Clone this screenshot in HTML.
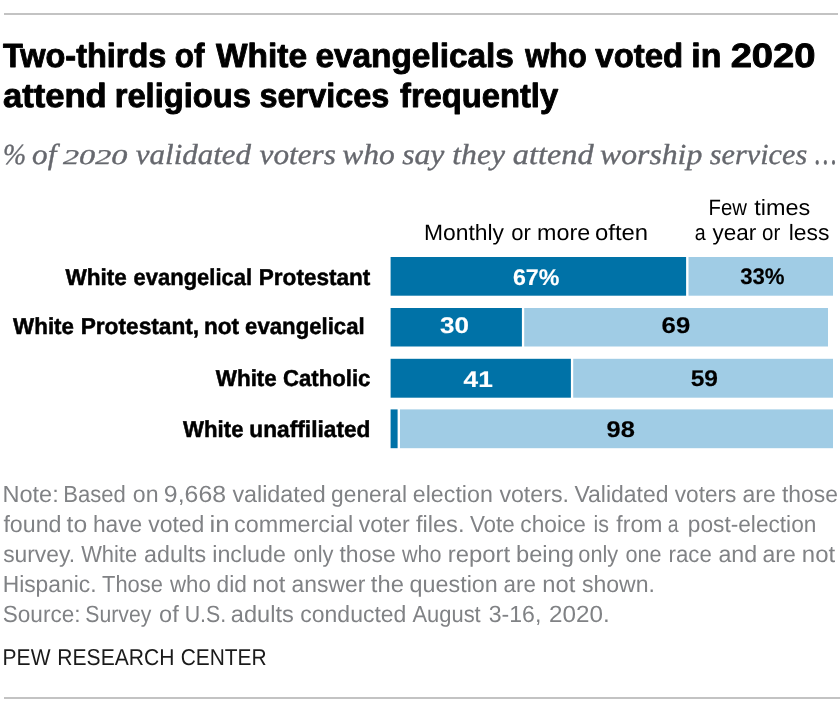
<!DOCTYPE html>
<html lang="en">
<head>
<meta charset="utf-8">
<title>Two-thirds of White evangelicals who voted in 2020 attend religious services frequently</title>
<style>
html,body{margin:0;padding:0;background:#fff;}
body{width:840px;height:713px;overflow:hidden;font-family:'Liberation Sans', Arial, sans-serif;}
svg{display:block;text-rendering:geometricPrecision;}
</style>
</head>
<body>
<svg width="840" height="713" viewBox="0 0 840 713">
<rect x="0" y="0" width="840" height="713" fill="#ffffff"/>
<rect x="4.00" y="13.00" width="834.00" height="2.00" fill="#c3c3c3"/>
<rect x="4.00" y="697.00" width="836.00" height="2.00" fill="#c3c3c3"/>
<text y="67.20" font-family="'Liberation Sans', Arial, sans-serif" font-size="33.6" font-weight="bold" font-style="normal" fill="#000" stroke="#000" stroke-width="0.9" stroke-linejoin="round"><tspan x="2.88" textLength="163.46" lengthAdjust="spacingAndGlyphs">Two-thirds</tspan> <tspan x="174.74" textLength="29.73" lengthAdjust="spacingAndGlyphs">of</tspan> <tspan x="216.00" textLength="91.06" lengthAdjust="spacingAndGlyphs">White</tspan> <tspan x="315.41" textLength="198.53" lengthAdjust="spacingAndGlyphs">evangelicals</tspan> <tspan x="525.15" textLength="61.61" lengthAdjust="spacingAndGlyphs">who</tspan> <tspan x="595.34" textLength="87.88" lengthAdjust="spacingAndGlyphs">voted</tspan> <tspan x="691.38" textLength="30.11" lengthAdjust="spacingAndGlyphs">in</tspan> <tspan x="730.67" textLength="84.85" lengthAdjust="spacingAndGlyphs">2020</tspan></text>
<text y="107.10" font-family="'Liberation Sans', Arial, sans-serif" font-size="33.6" font-weight="bold" font-style="normal" fill="#000" stroke="#000" stroke-width="0.9" stroke-linejoin="round"><tspan x="2.96" textLength="103.79" lengthAdjust="spacingAndGlyphs">attend</tspan> <tspan x="114.68" textLength="136.21" lengthAdjust="spacingAndGlyphs">religious</tspan> <tspan x="259.62" textLength="129.65" lengthAdjust="spacingAndGlyphs">services</tspan> <tspan x="400.01" textLength="158.13" lengthAdjust="spacingAndGlyphs">frequently</tspan></text>
<text y="163.80" font-family="'Liberation Serif', 'DejaVu Serif', serif" font-size="29" font-weight="normal" font-style="italic" fill="#66686e" stroke="#66686e" stroke-width="0.35" stroke-linejoin="round"><tspan x="2.97" textLength="23.14" lengthAdjust="spacingAndGlyphs">%</tspan> <tspan x="32.06" textLength="24.28" lengthAdjust="spacingAndGlyphs">of</tspan> <tspan x="63.00" textLength="64.32" lengthAdjust="spacingAndGlyphs" font-size="21">2020</tspan> <tspan x="135.79" textLength="115.34" lengthAdjust="spacingAndGlyphs">validated</tspan> <tspan x="259.53" textLength="76.37" lengthAdjust="spacingAndGlyphs">voters</tspan> <tspan x="342.21" textLength="52.55" lengthAdjust="spacingAndGlyphs">who</tspan> <tspan x="402.18" textLength="42.25" lengthAdjust="spacingAndGlyphs">say</tspan> <tspan x="452.33" textLength="52.69" lengthAdjust="spacingAndGlyphs">they</tspan> <tspan x="512.78" textLength="80.79" lengthAdjust="spacingAndGlyphs">attend</tspan> <tspan x="600.01" textLength="102.29" lengthAdjust="spacingAndGlyphs">worship</tspan> <tspan x="709.70" textLength="97.53" lengthAdjust="spacingAndGlyphs">services</tspan> <tspan x="814.97" textLength="21.61" lengthAdjust="spacingAndGlyphs" font-size="36">…</tspan></text>
<text y="240.40" font-family="'Liberation Sans', Arial, sans-serif" font-size="22.2" font-weight="normal" font-style="normal" fill="#000"><tspan x="423.97" textLength="80.06" lengthAdjust="spacingAndGlyphs">Monthly</tspan> <tspan x="511.22" textLength="19.59" lengthAdjust="spacingAndGlyphs">or</tspan> <tspan x="537.08" textLength="53.13" lengthAdjust="spacingAndGlyphs">more</tspan> <tspan x="595.05" textLength="53.09" lengthAdjust="spacingAndGlyphs">often</tspan></text>
<text y="214.70" font-family="'Liberation Sans', Arial, sans-serif" font-size="22.2" font-weight="normal" font-style="normal" fill="#000"><tspan x="708.57" textLength="38.41" lengthAdjust="spacingAndGlyphs">Few</tspan> <tspan x="754.35" textLength="55.95" lengthAdjust="spacingAndGlyphs">times</tspan></text>
<text y="240.40" font-family="'Liberation Sans', Arial, sans-serif" font-size="22.2" font-weight="normal" font-style="normal" fill="#000"><tspan x="694.82" textLength="10.91" lengthAdjust="spacingAndGlyphs">a</tspan> <tspan x="712.40" textLength="43.75" lengthAdjust="spacingAndGlyphs">year</tspan> <tspan x="762.08" textLength="18.21" lengthAdjust="spacingAndGlyphs">or</tspan> <tspan x="788.71" textLength="40.65" lengthAdjust="spacingAndGlyphs">less</tspan></text>
<rect x="390.60" y="257.00" width="295.50" height="38.70" fill="#0072A7"/>
<rect x="688.50" y="257.00" width="144.50" height="38.70" fill="#A0CCE5"/>
<rect x="390.60" y="308.00" width="131.30" height="38.50" fill="#0072A7"/>
<rect x="524.20" y="308.00" width="303.80" height="38.50" fill="#A0CCE5"/>
<rect x="390.60" y="358.80" width="180.30" height="38.90" fill="#0072A7"/>
<rect x="573.20" y="358.80" width="259.80" height="38.90" fill="#A0CCE5"/>
<rect x="390.60" y="409.40" width="7.00" height="38.80" fill="#0072A7"/>
<rect x="400.00" y="409.40" width="433.00" height="38.80" fill="#A0CCE5"/>
<text y="284.90" font-family="'Liberation Sans', Arial, sans-serif" font-size="23" font-weight="bold" font-style="normal" fill="#000" stroke="#000" stroke-width="0.5" stroke-linejoin="round"><tspan x="65.50" textLength="61.42" lengthAdjust="spacingAndGlyphs">White</tspan> <tspan x="133.62" textLength="118.45" lengthAdjust="spacingAndGlyphs">evangelical</tspan> <tspan x="258.84" textLength="111.40" lengthAdjust="spacingAndGlyphs">Protestant</tspan></text>
<text y="334.00" font-family="'Liberation Sans', Arial, sans-serif" font-size="23" font-weight="bold" font-style="normal" fill="#000" stroke="#000" stroke-width="0.5" stroke-linejoin="round"><tspan x="13.10" textLength="60.91" lengthAdjust="spacingAndGlyphs">White</tspan> <tspan x="80.63" textLength="118.53" lengthAdjust="spacingAndGlyphs">Protestant,</tspan> <tspan x="204.03" textLength="35.10" lengthAdjust="spacingAndGlyphs">not</tspan> <tspan x="245.11" textLength="119.58" lengthAdjust="spacingAndGlyphs">evangelical</tspan></text>
<text y="386.40" font-family="'Liberation Sans', Arial, sans-serif" font-size="23" font-weight="bold" font-style="normal" fill="#000" stroke="#000" stroke-width="0.5" stroke-linejoin="round"><tspan x="215.80" textLength="61.01" lengthAdjust="spacingAndGlyphs">White</tspan> <tspan x="283.01" textLength="87.45" lengthAdjust="spacingAndGlyphs">Catholic</tspan></text>
<text y="436.70" font-family="'Liberation Sans', Arial, sans-serif" font-size="23" font-weight="bold" font-style="normal" fill="#000" stroke="#000" stroke-width="0.5" stroke-linejoin="round"><tspan x="183.10" textLength="60.40" lengthAdjust="spacingAndGlyphs">White</tspan> <tspan x="249.34" textLength="121.11" lengthAdjust="spacingAndGlyphs">unaffiliated</tspan></text>
<text y="284.50" font-family="'Liberation Sans', Arial, sans-serif" font-size="22.7" font-weight="bold" font-style="normal" fill="#fff" stroke="#fff" stroke-width="0.15" stroke-linejoin="round"><tspan x="512.94" textLength="46.43" lengthAdjust="spacingAndGlyphs">67%</tspan></text>
<text y="284.40" font-family="'Liberation Sans', Arial, sans-serif" font-size="22.7" font-weight="bold" font-style="normal" fill="#000" stroke="#000" stroke-width="0.15" stroke-linejoin="round"><tspan x="740.14" textLength="44.44" lengthAdjust="spacingAndGlyphs">33%</tspan></text>
<text y="333.30" font-family="'Liberation Sans', Arial, sans-serif" font-size="22.7" font-weight="bold" font-style="normal" fill="#fff" stroke="#fff" stroke-width="0.15" stroke-linejoin="round"><tspan x="440.05" textLength="28.95" lengthAdjust="spacingAndGlyphs">30</tspan></text>
<text y="333.20" font-family="'Liberation Sans', Arial, sans-serif" font-size="22.7" font-weight="bold" font-style="normal" fill="#000" stroke="#000" stroke-width="0.15" stroke-linejoin="round"><tspan x="661.60" textLength="28.66" lengthAdjust="spacingAndGlyphs">69</tspan></text>
<text y="386.50" font-family="'Liberation Sans', Arial, sans-serif" font-size="22.7" font-weight="bold" font-style="normal" fill="#fff" stroke="#fff" stroke-width="0.15" stroke-linejoin="round"><tspan x="463.61" textLength="29.21" lengthAdjust="spacingAndGlyphs">41</tspan></text>
<text y="386.40" font-family="'Liberation Sans', Arial, sans-serif" font-size="22.7" font-weight="bold" font-style="normal" fill="#000" stroke="#000" stroke-width="0.15" stroke-linejoin="round"><tspan x="690.66" textLength="27.36" lengthAdjust="spacingAndGlyphs">59</tspan></text>
<text y="436.60" font-family="'Liberation Sans', Arial, sans-serif" font-size="22.7" font-weight="bold" font-style="normal" fill="#000" stroke="#000" stroke-width="0.15" stroke-linejoin="round"><tspan x="606.51" textLength="28.31" lengthAdjust="spacingAndGlyphs">98</tspan></text>
<text y="501.90" font-family="'Liberation Sans', Arial, sans-serif" font-size="23.4" font-weight="normal" font-style="normal" fill="#808285"><tspan x="2.42" textLength="56.31" lengthAdjust="spacingAndGlyphs">Note:</tspan> <tspan x="63.23" textLength="62.60" lengthAdjust="spacingAndGlyphs">Based</tspan> <tspan x="132.82" textLength="25.73" lengthAdjust="spacingAndGlyphs">on</tspan> <tspan x="163.88" textLength="62.17" lengthAdjust="spacingAndGlyphs">9,668</tspan> <tspan x="232.38" textLength="93.34" lengthAdjust="spacingAndGlyphs">validated</tspan> <tspan x="331.09" textLength="75.91" lengthAdjust="spacingAndGlyphs">general</tspan> <tspan x="412.82" textLength="79.98" lengthAdjust="spacingAndGlyphs">election</tspan> <tspan x="499.38" textLength="69.61" lengthAdjust="spacingAndGlyphs">voters.</tspan> <tspan x="574.39" textLength="94.11" lengthAdjust="spacingAndGlyphs">Validated</tspan> <tspan x="674.79" textLength="61.67" lengthAdjust="spacingAndGlyphs">voters</tspan> <tspan x="742.48" textLength="33.36" lengthAdjust="spacingAndGlyphs">are</tspan> <tspan x="781.96" textLength="55.99" lengthAdjust="spacingAndGlyphs">those</tspan></text>
<text y="531.90" font-family="'Liberation Sans', Arial, sans-serif" font-size="23.4" font-weight="normal" font-style="normal" fill="#808285"><tspan x="3.40" textLength="58.05" lengthAdjust="spacingAndGlyphs">found</tspan> <tspan x="66.63" textLength="20.58" lengthAdjust="spacingAndGlyphs">to</tspan> <tspan x="92.91" textLength="49.33" lengthAdjust="spacingAndGlyphs">have</tspan> <tspan x="148.13" textLength="56.28" lengthAdjust="spacingAndGlyphs">voted</tspan> <tspan x="209.56" textLength="20.21" lengthAdjust="spacingAndGlyphs">in</tspan> <tspan x="234.07" textLength="119.25" lengthAdjust="spacingAndGlyphs">commercial</tspan> <tspan x="358.63" textLength="51.17" lengthAdjust="spacingAndGlyphs">voter</tspan> <tspan x="415.90" textLength="48.64" lengthAdjust="spacingAndGlyphs">files.</tspan> <tspan x="469.89" textLength="44.80" lengthAdjust="spacingAndGlyphs">Vote</tspan> <tspan x="520.34" textLength="65.58" lengthAdjust="spacingAndGlyphs">choice</tspan> <tspan x="593.61" textLength="15.49" lengthAdjust="spacingAndGlyphs">is</tspan> <tspan x="616.35" textLength="46.04" lengthAdjust="spacingAndGlyphs">from</tspan> <tspan x="667.82" textLength="10.80" lengthAdjust="spacingAndGlyphs">a</tspan> <tspan x="687.83" textLength="128.55" lengthAdjust="spacingAndGlyphs">post-election</tspan></text>
<text y="561.80" font-family="'Liberation Sans', Arial, sans-serif" font-size="23.4" font-weight="normal" font-style="normal" fill="#808285"><tspan x="3.18" textLength="71.85" lengthAdjust="spacingAndGlyphs">survey.</tspan> <tspan x="81.14" textLength="56.01" lengthAdjust="spacingAndGlyphs">White</tspan> <tspan x="144.07" textLength="62.01" lengthAdjust="spacingAndGlyphs">adults</tspan> <tspan x="212.24" textLength="73.67" lengthAdjust="spacingAndGlyphs">include</tspan> <tspan x="293.43" textLength="40.06" lengthAdjust="spacingAndGlyphs">only</tspan> <tspan x="339.45" textLength="56.30" lengthAdjust="spacingAndGlyphs">those</tspan> <tspan x="402.00" textLength="39.65" lengthAdjust="spacingAndGlyphs">who</tspan> <tspan x="447.75" textLength="62.43" lengthAdjust="spacingAndGlyphs">report</tspan> <tspan x="515.96" textLength="58.01" lengthAdjust="spacingAndGlyphs">being</tspan> <tspan x="578.33" textLength="39.86" lengthAdjust="spacingAndGlyphs">only</tspan> <tspan x="625.43" textLength="36.11" lengthAdjust="spacingAndGlyphs">one</tspan> <tspan x="668.56" textLength="43.24" lengthAdjust="spacingAndGlyphs">race</tspan> <tspan x="718.47" textLength="38.70" lengthAdjust="spacingAndGlyphs">and</tspan> <tspan x="762.48" textLength="33.36" lengthAdjust="spacingAndGlyphs">are</tspan> <tspan x="801.84" textLength="33.30" lengthAdjust="spacingAndGlyphs">not</tspan></text>
<text y="591.80" font-family="'Liberation Sans', Arial, sans-serif" font-size="23.4" font-weight="normal" font-style="normal" fill="#808285"><tspan x="2.67" textLength="93.83" lengthAdjust="spacingAndGlyphs">Hispanic.</tspan> <tspan x="102.06" textLength="60.80" lengthAdjust="spacingAndGlyphs">Those</tspan> <tspan x="170.00" textLength="40.88" lengthAdjust="spacingAndGlyphs">who</tspan> <tspan x="216.59" textLength="30.26" lengthAdjust="spacingAndGlyphs">did</tspan> <tspan x="252.21" textLength="33.04" lengthAdjust="spacingAndGlyphs">not</tspan> <tspan x="291.59" textLength="73.73" lengthAdjust="spacingAndGlyphs">answer</tspan> <tspan x="370.89" textLength="33.06" lengthAdjust="spacingAndGlyphs">the</tspan> <tspan x="409.57" textLength="88.22" lengthAdjust="spacingAndGlyphs">question</tspan> <tspan x="503.61" textLength="32.30" lengthAdjust="spacingAndGlyphs">are</tspan> <tspan x="542.21" textLength="33.04" lengthAdjust="spacingAndGlyphs">not</tspan> <tspan x="581.92" textLength="73.02" lengthAdjust="spacingAndGlyphs">shown.</tspan></text>
<text y="621.80" font-family="'Liberation Sans', Arial, sans-serif" font-size="23.4" font-weight="normal" font-style="normal" fill="#808285"><tspan x="2.73" textLength="77.82" lengthAdjust="spacingAndGlyphs">Source:</tspan> <tspan x="85.30" textLength="66.01" lengthAdjust="spacingAndGlyphs">Survey</tspan> <tspan x="159.06" textLength="19.67" lengthAdjust="spacingAndGlyphs">of</tspan> <tspan x="184.65" textLength="41.52" lengthAdjust="spacingAndGlyphs">U.S.</tspan> <tspan x="230.81" textLength="62.99" lengthAdjust="spacingAndGlyphs">adults</tspan> <tspan x="300.33" textLength="106.04" lengthAdjust="spacingAndGlyphs">conducted</tspan> <tspan x="412.50" textLength="68.18" lengthAdjust="spacingAndGlyphs">August</tspan> <tspan x="488.78" textLength="52.58" lengthAdjust="spacingAndGlyphs">3-16,</tspan> <tspan x="549.09" textLength="60.63" lengthAdjust="spacingAndGlyphs">2020.</tspan></text>
<text y="665.40" font-family="'Liberation Sans', Arial, sans-serif" font-size="23" font-weight="normal" font-style="normal" fill="#1a1a1a"><tspan x="2.62" textLength="47.84" lengthAdjust="spacingAndGlyphs">PEW</tspan> <tspan x="57.31" textLength="117.11" lengthAdjust="spacingAndGlyphs">RESEARCH</tspan> <tspan x="180.65" textLength="86.02" lengthAdjust="spacingAndGlyphs">CENTER</tspan></text>
</svg>
</body>
</html>
